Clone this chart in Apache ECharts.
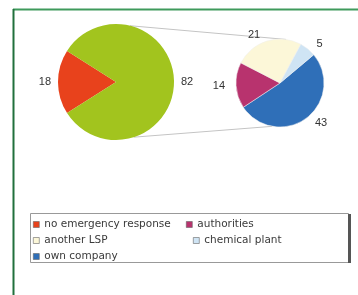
<!DOCTYPE html>
<html>
<head>
<meta charset="utf-8">
<script src="https://cdn.jsdelivr.net/npm/echarts@6/dist/echarts.min.js"></script>
<style>
  html, body { margin: 0; padding: 0; background: #fff; }
  #chart { width: 358px; height: 295px; }
</style>
</head>
<body>
<div id="chart"></div>
<script>
// data
var mainNames = ['no emergency response', 'emergency response'];
var mainValues = [18, 82];
var mainColors = ['#e8421c', '#a2c41e'];

var detailNames = ['own company', 'authorities', 'another LSP', 'chemical plant'];
var detailValues = [43, 14, 21, 5];
var detailColors = ['#2f6fb8', '#b8336e', '#fcf7d8', '#cfe4f4'];

var legendCol1 = ['no emergency response', 'another LSP', 'own company'];
var legendCol2a = ['authorities'];
var legendCol2b = ['chemical plant'];

// layout
var bigC = [116, 82], bigR = 58;
var smallC = [280, 83], smallR = 44;

function onCircle(c, r, deg) {
  var a = deg * Math.PI / 180;
  return [c[0] + r * Math.cos(a), c[1] - r * Math.sin(a)];
}
var t1 = onCircle(bigC, bigR, 76), t2 = onCircle(smallC, smallR, 82);
var b1 = onCircle(bigC, bigR, -72), b2 = onCircle(smallC, smallR, -100);

var chart = echarts.init(document.getElementById('chart'));

var legendText = { color: '#3a3a3a', fontSize: 10.5, fontFamily: 'DejaVu Sans' };
function legendCfg(data, left, top) {
  return {
    data: data,
    orient: 'vertical',
    left: left,
    top: top,
    itemWidth: 6,
    itemHeight: 6,
    itemGap: 5,
    icon: 'rect',
    selectedMode: false,
    itemStyle: { borderColor: '#666', borderWidth: 0.6 },
    textStyle: legendText
  };
}

var pieLabel = {
  show: true,
  position: 'outside',
  formatter: '{c}',
  color: '#333',
  fontSize: 11,
  fontFamily: 'Liberation Sans'
};

chart.setOption({
  animation: false,
  color: mainColors.concat(detailColors),
  legend: [
    legendCfg(legendCol1, 28, 214),
    legendCfg(legendCol2a, 181, 214),
    legendCfg(legendCol2b, 188, 230)
  ],
  graphic: [
    // frame
    { type: 'line', shape: { x1: 13, y1: 9.5, x2: 358, y2: 9.5 }, style: { stroke: '#3f9a5c', lineWidth: 2 } },
    { type: 'line', shape: { x1: 13.5, y1: 9, x2: 13.5, y2: 295 }, style: { stroke: '#21703c', lineWidth: 2 } },
    // legend box
    { type: 'rect', shape: { x: 30.5, y: 213.5, width: 318, height: 49 }, style: { fill: 'none', stroke: '#999', lineWidth: 1 }, z: -1 },
    { type: 'line', shape: { x1: 349.5, y1: 214, x2: 349.5, y2: 263 }, style: { stroke: '#555', lineWidth: 3 } },
    // connectors
    { type: 'line', shape: { x1: t1[0], y1: t1[1], x2: t2[0], y2: t2[1] }, style: { stroke: '#c4c4c4', lineWidth: 1 }, z: -1 },
    { type: 'line', shape: { x1: b1[0], y1: b1[1], x2: b2[0], y2: b2[1] }, style: { stroke: '#c4c4c4', lineWidth: 1 }, z: -1 }
  ],
  series: [
    {
      type: 'pie',
      center: bigC,
      radius: bigR,
      startAngle: 180 + mainValues[0] / 100 * 180,
      label: pieLabel,
      labelLine: { show: false, length: 2, length2: 0 },
      itemStyle: { borderWidth: 0 },
      data: mainNames.map(function (n, i) {
        return { name: n, value: mainValues[i], itemStyle: { color: mainColors[i] } };
      })
    },
    {
      type: 'pie',
      center: smallC,
      radius: smallR,
      startAngle: 40,
      label: pieLabel,
      labelLine: { show: false, length: 6, length2: 0 },
      itemStyle: { borderColor: '#eee', borderWidth: 0.5 },
      data: detailNames.map(function (n, i) {
        return { name: n, value: detailValues[i], itemStyle: { color: detailColors[i] } };
      })
    }
  ]
});
</script>
</body>
</html>
